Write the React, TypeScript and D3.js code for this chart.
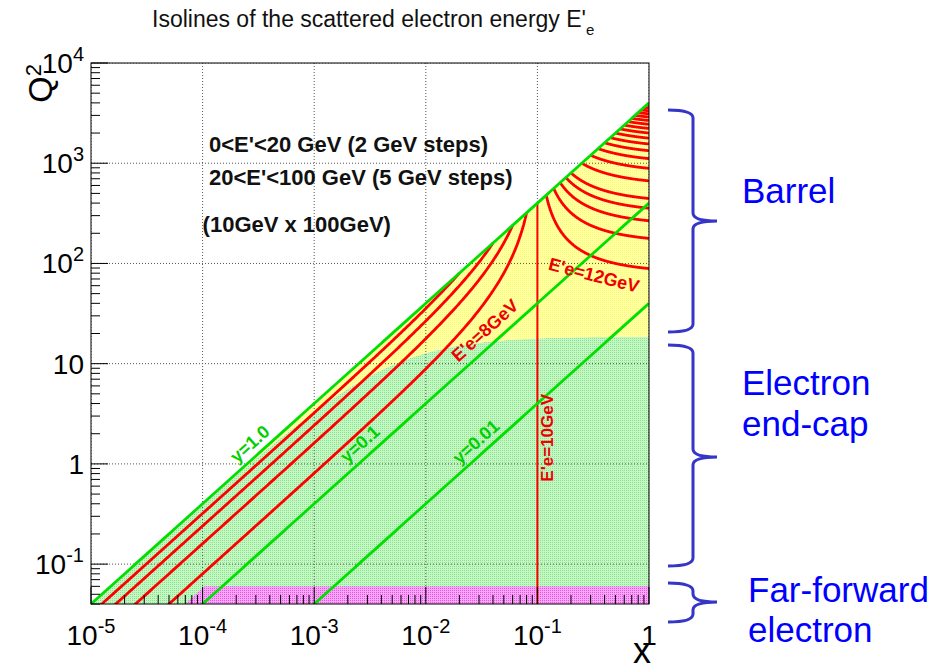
import React from 'react';
import * as d3 from 'd3';

// beam setup: 10 GeV electron x 100 GeV proton
const E_E = 10;
const E_P = 100;
const S = 4 * E_E * E_P;

const X_DOMAIN = [1e-5, 1];
const Q2_DOMAIN = [0.04, 1e4];

// isoline energies of the scattered electron (GeV)
const ENERGIES_LOW = [2, 4, 6, 8];
const ENERGY_BEAM = 10;
const ENERGIES_HIGH = [12, 14, 16, 18, 20, 25, 30, 35, 40, 45, 50, 55, 60, 65, 70, 75, 80, 85, 90, 95];
// inelasticity lines
const Y_VALUES = [1.0, 0.1, 0.01];

const X_TICKS = [1e-5, 1e-4, 1e-3, 1e-2, 1e-1, 1];
const X_TICK_LABELS = [['10', '-5'], ['10', '-4'], ['10', '-3'], ['10', '-2'], ['10', '-1'], ['1', '']];
const Q2_TICKS = [0.1, 1, 10, 100, 1000, 10000];
const Q2_TICK_LABELS = [['10', '-1'], ['1', ''], ['10', ''], ['10', '2'], ['10', '3'], ['10', '4']];

// detector acceptance regions
const BARREL_Q2 = 18.7; // asymptotic Q2 of the barrel / end-cap boundary angle
const FF_Q2 = 0.06;     // far-forward tagger upper Q2
const FF_Y = 0.144;     // far-forward tagger upper y

const CURVE_LABELS = [
  { text: "E'e=8GeV", x: 0.0339, q2: 21.4, angle: -42, color: '#ee0000', size: 18 },
  { text: "E'e=12GeV", x: 0.321, q2: 75.9, angle: 14.5, color: '#ee0000', size: 18 },
  { text: "E'e=10GeV", x: 0.124, q2: 1.82, angle: -90, color: '#ee0000', size: 17 },
  { text: 'y=1.0', x: 2.66e-4, q2: 1.58, angle: -42, color: '#00d000', size: 18 },
  { text: 'y=0.1', x: 2.57e-3, q2: 1.58, angle: -42, color: '#00d000', size: 18 },
  { text: 'y=0.01', x: 0.0282, q2: 1.66, angle: -42, color: '#00d000', size: 18 },
];

const NOTES = [
  { text: "0<E'<20 GeV (2 GeV steps)", x: 1.14e-4, q2: 1288 },
  { text: "20<E'<100 GeV (5 GeV steps)", x: 1.14e-4, q2: 603 },
  { text: '(10GeV x 100GeV)', x: 1.0e-4, q2: 204 },
];

const REGIONS = [
  { lines: ['Barrel'], top: 110, mid: 221, bottom: 332, textX: 742, baselines: [203] },
  { lines: ['Electron', 'end-cap'], top: 345, mid: 457, bottom: 566, textX: 742, baselines: [395, 436] },
  { lines: ['Far-forward', 'electron'], top: 583, mid: 602, bottom: 622, textX: 748, baselines: [602, 642] },
];

const W = 949;
const H = 667;
const PLOT = { left: 91, right: 649, top: 63, bottom: 604 };
const FONT = "'Liberation Sans', Arial, Helvetica, sans-serif";

const logSpace = (a: number, b: number, n: number) =>
  d3.range(n + 1).map(i => a * Math.pow(b / a, i / n));

// Q2 for a given scattered electron energy along x
const q2ForEnergy = (e: number, x: number) =>
  ((e - E_E) * 4 * E_E * S * x) / (S * x - 4 * E_E * E_E);

const barrelEdge = (x: number) => (BARREL_Q2 * S * x) / (S * x + BARREL_Q2);

export default function App() {
  const xs = d3.scaleLog().domain(X_DOMAIN).range([PLOT.left, PLOT.right]);
  const ys = d3.scaleLog().domain(Q2_DOMAIN).range([PLOT.bottom, PLOT.top]);
  const line = d3.line<number[]>().x(d => xs(d[0])).y(d => ys(d[1]));

  const xGrid = logSpace(X_DOMAIN[0], X_DOMAIN[1], 400);

  // fill regions
  const yellow = [
    ...xGrid.map(x => [x, S * x]),
    ...xGrid.slice().reverse().map(x => [x, barrelEdge(x)]),
  ];
  const green = [
    ...xGrid.map(x => [x, barrelEdge(x)]),
    [X_DOMAIN[1], Q2_DOMAIN[0]],
    [X_DOMAIN[0], Q2_DOMAIN[0]],
  ];
  const magenta = [
    [Q2_DOMAIN[0] / (FF_Y * S), Q2_DOMAIN[0]],
    [FF_Q2 / (FF_Y * S), FF_Q2],
    [X_DOMAIN[1], FF_Q2],
    [X_DOMAIN[1], Q2_DOMAIN[0]],
  ];

  const lowCurves = ENERGIES_LOW.map(e =>
    logSpace(X_DOMAIN[0], (4 * E_E * e) / S, 300).map(x => [x, q2ForEnergy(e, x)]));
  const highCurves = ENERGIES_HIGH.map(e =>
    logSpace((4 * E_E * e) / S, X_DOMAIN[1], 300).map(x => [x, q2ForEnergy(e, x)]));
  const xBeam = (4 * E_E * ENERGY_BEAM) / S;

  const yLines = Y_VALUES.map(y => xGrid.map(x => [x, y * S * x]));

  const minorX = d3.range(-5, 0).flatMap(d => d3.range(2, 10).map(k => k * Math.pow(10, d)));
  const minorY = d3.range(-2, 4).flatMap(d => d3.range(2, 10).map(k => k * Math.pow(10, d)))
    .filter(v => v >= Q2_DOMAIN[0] && v <= Q2_DOMAIN[1]);

  const brace = (r: typeof REGIONS[0]) => {
    const x0 = 668, sp = 693, tip = 717, c = 8;
    return `M${x0},${r.top} Q${sp},${r.top} ${sp},${r.top + c} L${sp},${r.mid - c} ` +
      `Q${sp},${r.mid} ${tip},${r.mid} Q${sp},${r.mid} ${sp},${r.mid + c} ` +
      `L${sp},${r.bottom - c} Q${sp},${r.bottom} ${x0},${r.bottom}`;
  };

  return (
    <svg width={W} height={H} style={{ position: 'absolute', left: 0, top: 0, display: 'block' }}
      fontFamily={FONT}>
      <defs>
        <clipPath id="plotClip">
          <rect x={PLOT.left} y={PLOT.top} width={PLOT.right - PLOT.left} height={PLOT.bottom - PLOT.top} />
        </clipPath>
        <pattern id="pYellow" width="2" height="2" patternUnits="userSpaceOnUse">
          <rect width="2" height="2" fill="#ffffb0" />
          <rect width="1" height="1" fill="#ffff50" />
        </pattern>
        <pattern id="pGreen" width="2" height="2" patternUnits="userSpaceOnUse">
          <rect width="2" height="2" fill="#c8f5c8" />
          <rect width="1" height="1" fill="#80ec80" />
        </pattern>
        <pattern id="pMagenta" width="2" height="2" patternUnits="userSpaceOnUse">
          <rect width="2" height="2" fill="#f6a8f6" />
          <rect width="1" height="1" fill="#e850e8" />
        </pattern>
      </defs>
      <rect width={W} height={H} fill="#fff" />

      <text x={152} y={27} fontSize={23} fill="#111">
        Isolines of the scattered electron energy E'
        <tspan dy={8} fontSize={15}>e</tspan>
      </text>

      <g clipPath="url(#plotClip)">
        <path d={line(green as number[][]) + 'Z'} fill="url(#pGreen)" />
        <path d={line(yellow as number[][]) + 'Z'} fill="url(#pYellow)" />
        <path d={line(magenta as number[][]) + 'Z'} fill="url(#pMagenta)" />

        {X_TICKS.map(v => (
          <line key={'gx' + v} x1={xs(v)} x2={xs(v)} y1={PLOT.top} y2={PLOT.bottom}
            stroke="#555" strokeDasharray="1,2" />
        ))}
        {Q2_TICKS.map(v => (
          <line key={'gy' + v} x1={PLOT.left} x2={PLOT.right} y1={ys(v)} y2={ys(v)}
            stroke="#555" strokeDasharray="1,2" />
        ))}

        {lowCurves.concat(highCurves).map((c, i) => (
          <path key={'e' + i} d={line(c as number[][]) || ''} fill="none" stroke="#ff0000" strokeWidth={2.8} />
        ))}
        <line x1={xs(xBeam)} x2={xs(xBeam)} y1={ys(Q2_DOMAIN[0])} y2={ys(S * xBeam)}
          stroke="#ff0000" strokeWidth={2} />

        {yLines.map((c, i) => (
          <path key={'y' + i} d={line(c as number[][]) || ''} fill="none" stroke="#00e000" strokeWidth={2.8} />
        ))}
      </g>

      {CURVE_LABELS.map(l => (
        <text key={l.text} x={xs(l.x)} y={ys(l.q2)} fill={l.color} fontSize={l.size} fontWeight="bold"
          textAnchor="middle" dominantBaseline="central"
          transform={`rotate(${l.angle},${xs(l.x)},${ys(l.q2)})`}>{l.text}</text>
      ))}

      {NOTES.map(n => (
        <text key={n.text} x={xs(n.x)} y={ys(n.q2)} fontSize={22} fontWeight="bold" fill="#111">{n.text}</text>
      ))}

      {/* frame and ticks */}
      <rect x={PLOT.left} y={PLOT.top} width={PLOT.right - PLOT.left} height={PLOT.bottom - PLOT.top}
        fill="none" stroke="#000" strokeWidth={1} />
      {X_TICKS.map(v => (
        <line key={'tx' + v} x1={xs(v)} x2={xs(v)} y1={PLOT.bottom} y2={PLOT.bottom - 17} stroke="#000" />
      ))}
      {minorX.map(v => (
        <line key={'mx' + v} x1={xs(v)} x2={xs(v)} y1={PLOT.bottom} y2={PLOT.bottom - 9} stroke="#000" />
      ))}
      {Q2_TICKS.map(v => (
        <line key={'ty' + v} x1={PLOT.left} x2={PLOT.left + 17} y1={ys(v)} y2={ys(v)} stroke="#000" />
      ))}
      {minorY.map(v => (
        <line key={'my' + v} x1={PLOT.left} x2={PLOT.left + 9} y1={ys(v)} y2={ys(v)} stroke="#000" />
      ))}

      {X_TICKS.map((v, i) => (
        <text key={'lx' + v} x={xs(v)} y={645} fontSize={28} textAnchor="middle" fill="#000">
          {X_TICK_LABELS[i][0]}
          {X_TICK_LABELS[i][1] && <tspan dy={-12} fontSize={20}>{X_TICK_LABELS[i][1]}</tspan>}
        </text>
      ))}
      {Q2_TICKS.map((v, i) => (
        <text key={'ly' + v} x={84} y={ys(v) + 10} fontSize={28} textAnchor="end" fill="#000">
          {Q2_TICK_LABELS[i][0]}
          {Q2_TICK_LABELS[i][1] && <tspan dy={-12} fontSize={20}>{Q2_TICK_LABELS[i][1]}</tspan>}
        </text>
      ))}

      <text x={52} y={64} fontSize={34} textAnchor="end" transform="rotate(-90,52,64)" fill="#000">
        Q<tspan dy={-11} fontSize={22}>2</tspan>
      </text>
      <text x={651} y={663} fontSize={36} textAnchor="end" fill="#000">x</text>

      {REGIONS.map(r => (
        <g key={r.lines[0]}>
          <path d={brace(r)} fill="none" stroke="#3535c8" strokeWidth={3} />
          {r.lines.map((t, i) => (
            <text key={t} x={r.textX} y={r.baselines[i]} fontSize={35} fill="#0000ff">{t}</text>
          ))}
        </g>
      ))}
    </svg>
  );
}
